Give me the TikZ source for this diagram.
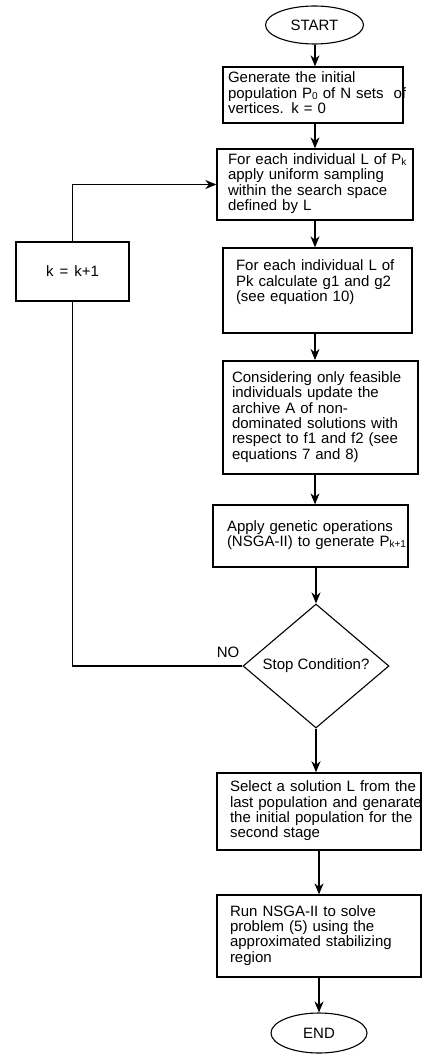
\documentclass[tikz,border=0pt]{standalone}
\usepackage{fontspec}
\setmainfont{Liberation Sans}
\usetikzlibrary{arrows.meta,shapes.geometric}
\newcommand{\sm}[1]{\raisebox{-1pt}{\fontsize{10}{10}\selectfont #1}}
\newcommand{\lines}[1]{\begin{tabular}{@{}l@{}}#1\end{tabular}}
\begin{document}
\begin{tikzpicture}[x={(1pt,0pt)}, y={(0pt,-1pt)},
  every node/.style={font=\fontsize{15}{15}\selectfont},
  box/.style={draw, line width=1.3pt, rectangle, align=left, inner ysep=0pt},
  term/.style={draw, ellipse, line width=1.1pt, inner sep=0pt},
  arr/.style={-{Stealth[length=11pt,width=9pt,inset=3.5pt]}, line width=1.1pt},
  ln/.style={line width=1.1pt}]
\fill[white] (0,0) rectangle (422,1059);
\useasboundingbox (0,0) rectangle (422,1059);

\node[term, minimum width=98pt, minimum height=38pt] (st) at (314.5,25) {START};

\node[box, text width=170pt, inner xsep=5pt, minimum height=56pt] (b1) at (313,95)
  {\lines{Generate the initial\\ population P\sm{0} of N sets~ of\\ vertices. k = 0}};

\node[box, text width=174pt, inner xsep=11pt, minimum height=71pt] (b2) at (315,184.5)
  {\lines{For each individual L of P\sm{k}\\ apply uniform sampling\\ within the search space\\ defined by L}};

\node[box, text width=163pt, inner xsep=13pt, minimum height=85pt] (b3) at (317.5,290.5)
  {\lines{For each individual L of\\ Pk calculate g1 and g2\\ (see equation 10)\\ \mbox{}}};

\node[box, line width=2pt, text width=177pt, inner xsep=9pt, minimum height=113pt] (b4) at (320.5,417.5)
  {\lines{Considering only feasible\\ individuals update the\\ archive A of non-\\ dominated solutions with\\ respect to f1 and f2 (see\\ equations 7 and 8)}};

\node[box, text width=167pt, inner xsep=14pt, minimum height=62pt] (b5) at (310.5,536)
  {\lines{Apply genetic operations\\ (NSGA-II) to generate P\sm{k+1}}};

\node[draw, diamond, line width=1.1pt, inner sep=0pt, minimum width=146pt, minimum height=124pt] (d) at (316,666) {Stop Condition?};

\node[inner sep=0pt] (no) at (228,652) {NO};

\node[box, line width=1.5pt, text width=178pt, inner xsep=13pt, minimum height=77pt] (b6) at (319,811.5)
  {\lines{Select a solution L from the\\ last population and genarate\\ the initial population for the\\ second stage}};

\node[box, text width=178pt, inner xsep=13pt, minimum height=82pt] (b7) at (319,936)
  {\lines{Run NSGA-II to solve\\ problem (5) using the\\ approximated stabilizing\\ region}};

\node[term, minimum width=96pt, minimum height=40pt] (en) at (319,1033) {END};

\node[box, line width=1.1pt, minimum width=113pt, minimum height=59pt, align=center] (k) at (72.5,271.5) {k\hspace{6pt}=\hspace{6pt}k+1};

\coordinate (ax) at (315,0);
\draw[arr] (st.south -| ax) -- (b1.north -| ax);
\draw[arr] (b1.south -| ax) -- (b2.north -| ax);
\draw[arr] (b2.south -| ax) -- (b3.north -| ax);
\draw[arr] (b3.south -| ax) -- (b4.north -| ax);
\draw[arr] (b4.south -| ax) -- (b5.north -| ax);
\draw[arr] (b5.south -| d.north) -- (d.north);
\draw[arr] (d.south) -- (d.south |- b6.north);
\draw[arr] (b6.south) -- (b7.north);
\draw[arr] (b7.south) -- (en.north);
\draw[arr] (k.north) |- (b2.west);
\draw[ln] (d.west) -| (k.south);
\end{tikzpicture}
\end{document}
